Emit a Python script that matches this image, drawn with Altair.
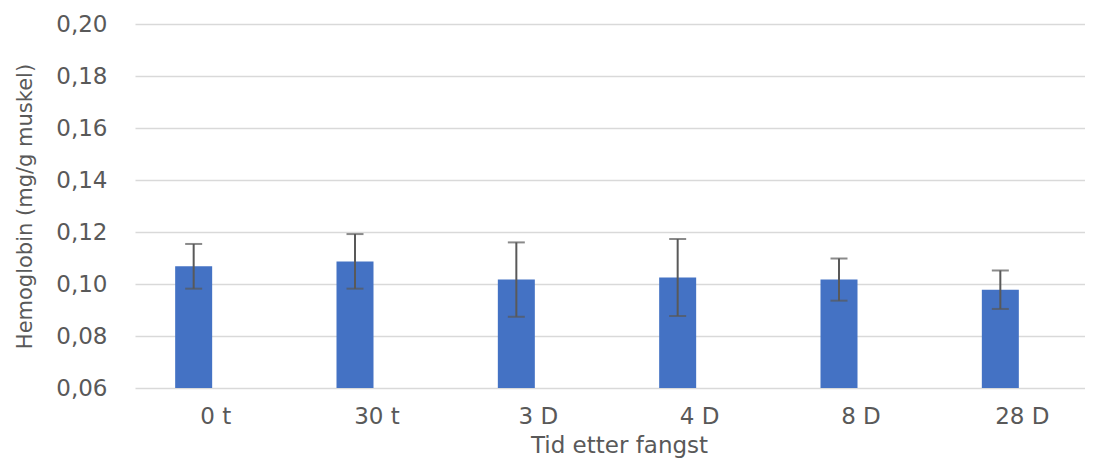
import altair as alt
import pandas as pd

categories = ["0 t", "30 t", "3 D", "4 D", "8 D", "28 D"]
means = [0.1068, 0.1087, 0.1017, 0.1025, 0.1017, 0.0978]
errors = [0.0086, 0.0105, 0.0143, 0.0148, 0.0081, 0.0074]

df = pd.DataFrame({
    "cat": categories,
    "mean": means,
    "lo": [m - e for m, e in zip(means, errors)],
    "hi": [m + e for m, e in zip(means, errors)],
})

FONT = "DejaVu Sans"
GRAY = "#595959"

x = alt.X("cat:N", sort=categories,
          scale=alt.Scale(range=[0, 968], paddingInner=0, paddingOuter=0),
          axis=alt.Axis(title="Tid etter fangst", labelAngle=0, ticks=False, domain=False,
                        labelPadding=17, labelFontSize=23, labelColor=GRAY, labelFont=FONT,
                        titleFont=FONT, titleFontSize=23, titleColor=GRAY, titleFontWeight="normal",
                        titlePadding=6, titleX=484, grid=False))
y = alt.Y("mean:Q",
          scale=alt.Scale(domain=[0.06, 0.20], nice=False, zero=False),
          axis=alt.Axis(title="Hemoglobin (mg/g muskel)", values=[0.06, 0.08, 0.10, 0.12, 0.14, 0.16, 0.18, 0.20],
                        labelExpr="replace(format(datum.value, '.2f'), '.', ',')",
                        ticks=False, domain=False, labelPadding=28, labelFontSize=23, labelColor=GRAY,
                        labelFont=FONT, titleFont=FONT, titleFontSize=21, titleColor=GRAY,
                        titleFontWeight="normal", titlePadding=20,
                        gridColor="#d9d9d9", gridWidth=1.5))

xs = alt.X("cat:N", sort=categories)
base = alt.Chart(df)
bars = base.mark_bar(size=37, xOffset=-22, color="#4472C4").encode(x=x, y=y, y2=alt.datum(0.06))
rules = base.mark_rule(xOffset=-22, color=GRAY, strokeWidth=2).encode(
    x=xs, y=alt.Y("lo:Q"), y2="hi:Q")
caps_hi = base.mark_tick(xOffset=-22, color=GRAY, size=17, thickness=2).encode(
    x=xs, y=alt.Y("hi:Q"))
caps_lo = base.mark_tick(xOffset=-22, color=GRAY, size=17, thickness=2).encode(
    x=xs, y=alt.Y("lo:Q"))

chart = alt.layer(bars, rules, caps_hi, caps_lo).properties(
    width=958, height=364, background="white",
    autosize=alt.AutoSizeParams(type="none"),
    padding={"left": 127, "top": 16, "right": -8, "bottom": 70},
).configure_view(stroke=None).configure_axis(domain=False)

chart.save("out.html", embed_options={"renderer": "svg", "actions": False})
